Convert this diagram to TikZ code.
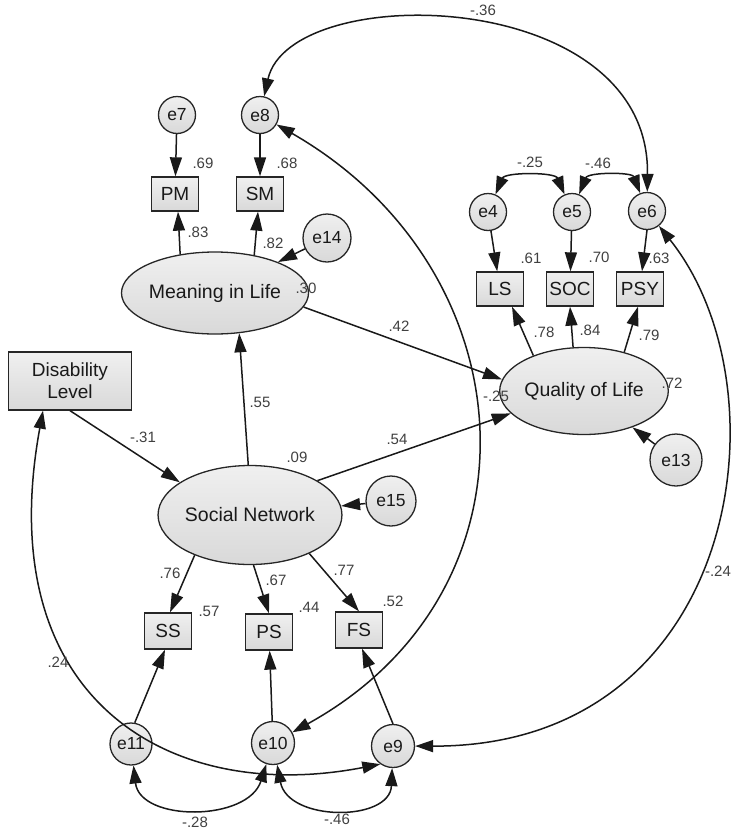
\documentclass[tikz,border=0pt]{standalone}
\usepackage{fontspec}
\setmainfont{Liberation Sans}
\usetikzlibrary{arrows.meta,shapes.geometric,calc}
\pgfdeclarelayer{background}
\pgfsetlayers{background,main}
\begin{document}
\begin{tikzpicture}[x=1pt,y=-1pt,
  base/.style={draw=black!85, line width=1.3pt, top color=black!6, bottom color=black!15, inner sep=0pt, text=black!90},
  obs/.style={base, rectangle, minimum width=47pt, minimum height=34pt, font=\fontsize{19}{20}\selectfont},
  err/.style={base, circle, minimum size=37pt, font=\fontsize{17.5}{20}\selectfont},
  lat/.style={base, ellipse, font=\fontsize{19.5}{20}\selectfont},
  lbl/.style={font=\fontsize{15}{16}\selectfont, text=black!75, inner sep=0pt},
  arr/.style={-{Triangle[length=19pt,width=12pt]}, line width=1.5pt, draw=black!90},
  cov/.style={{Triangle[length=18pt,width=12pt]}-{Triangle[length=18pt,width=12pt]}, line width=1.5pt, draw=black!90}]
\useasboundingbox (0,0) rectangle (737,833);
% nodes
\node[err] (e7) at (177,115) {e7};
\node[err] (e8) at (260,115) {e8};
\node[obs] (PM) at (175,194) {PM};
\node[obs] (SM) at (260,194) {SM};
\node[err, minimum size=48pt] (e14) at (327,238) {e14};
\node[lat, minimum width=144pt, minimum height=82pt] (MIL) at (215,293) {Meaning in Life};
\node[err] (e4) at (488,212) {e4};
\node[err] (e5) at (572,212) {e5};
\node[err] (e6) at (647,211) {e6};
\node[obs] (LS) at (500,289) {LS};
\node[obs] (SOC) at (570,289) {SOC};
\node[obs] (PSY) at (640,289) {PSY};
\node[lat, minimum width=142pt, minimum height=87pt] (QOL) at (584,391) {Quality of Life};
\node[err, minimum size=52pt] (e13) at (676,460) {e13};
\node[obs, minimum width=123pt, minimum height=58pt, align=center, font=\fontsize{19}{22}\selectfont] (DL) at (70,381) {Disability\\Level};
\node[lat, minimum width=146pt, minimum height=99pt] (SN) at (250,515) {Social Network};
\node[err, minimum size=50pt] (e15) at (391,501) {e15};
\node[obs, minimum height=36pt] (SS) at (168,631) {SS};
\node[obs, minimum height=36pt] (PS) at (269,632) {PS};
\node[obs, minimum height=36pt] (FS) at (359,630) {FS};
\node[err, minimum size=42pt] (e11) at (131,744) {e11};
\node[err, minimum size=43pt] (e10) at (273,743) {e10};
\node[err, minimum size=43pt] (e9) at (393,746) {e9};
% covariances
\begin{pgfonlayer}{background}
\draw[cov] (e4) .. controls (505,172) and (555,172) .. (e5);
\draw[cov] (e5) .. controls (588,172) and (632,172) .. (e6);
\draw[cov] (e8) .. controls (290,-20) and (650,-15) .. (e6);
\draw[cov] (e8) .. controls (530,270) and (550,590) .. (e10);
\draw[cov] (e6) .. controls (790,390) and (740,747) .. (e9);
\draw[cov] (e11) .. controls (140,822) and (248,822) .. (e10);
\draw[cov] (e10) .. controls (288,822) and (390,822) .. (e9);
\end{pgfonlayer}
\draw[cov] ([xshift=-27pt]DL.south) .. controls (-10,700) and (170,805) .. (e9.235);
% regressions
\draw[arr] (e7) -- (PM);
\draw[arr] (e8) -- (SM);
\draw[arr] (MIL.132) -- ([xshift=3pt]PM.south);
\draw[arr] (MIL.44) -- ([xshift=-2pt]SM.south);
\draw[arr] (e14) -- (MIL);
\draw[arr] (MIL.-9) -- (QOL.172);
\draw[arr] (SN.92) -- (MIL.-59);
\draw[arr] (SN.27) -- (QOL.197);
\draw[arr] (DL.south) -- (SN.155);
\draw[arr] (e15) -- (SN);
\draw[arr] (SN.216) -- ([xshift=2pt]SS.north);
\draw[arr] (SN.-86) -- (PS.north);
\draw[arr] (SN.-33) -- (FS.north);
\draw[arr] (e11.80) -- ([xshift=-3pt]SS.south);
\draw[arr] (e10) -- (PS);
\draw[arr] (e9.north) -- ([xshift=3pt]FS.south);
\draw[arr] (e4) -- (LS);
\draw[arr] (e5) -- (SOC);
\draw[arr] (e6.south) -- ([xshift=2pt]PSY.north);
\draw[arr] (QOL.145) -- ([xshift=12pt]LS.south);
\draw[arr] (QOL.104) -- (SOC.south);
\draw[arr] (QOL.44) -- ([xshift=-2pt]PSY.south);
\draw[arr] (e13) -- (QOL);
% labels
\node[lbl] (l69) at (203,163) {.69};
\node[lbl] (l68) at (287,163) {.68};
\node[lbl] (l83) at (198,232) {.83};
\node[lbl] (l82) at (273,243) {.82};
\node[lbl] (l30) at (306,288) {.30};
\node[lbl] (l42) at (399,326) {.42};
\node[lbl] (l36) at (483,10) {-.36};
\node[lbl] (l25a) at (530,162) {-.25};
\node[lbl] (l46a) at (598,163) {-.46};
\node[lbl] (l61) at (531,258) {.61};
\node[lbl] (l70) at (599,257) {.70};
\node[lbl] (l63) at (659,258) {.63};
\node[lbl] (l78) at (544,332) {.78};
\node[lbl] (l84) at (590,330) {.84};
\node[lbl] (l79) at (649,335) {.79};
\node[lbl] (l72) at (672,383) {.72};
\node[lbl] (l25b) at (496,396) {-.25};
\node[lbl] (l54) at (397,439) {.54};
\node[lbl] (l24a) at (718,571) {-.24};
\node[lbl] (l55) at (260,402) {.55};
\node[lbl] (l31) at (143,437) {-.31};
\node[lbl] (l09) at (297,457) {.09};
\node[lbl] (l76) at (170,573) {.76};
\node[lbl] (l67) at (276,580) {.67};
\node[lbl] (l77) at (344,570) {.77};
\node[lbl] (l57) at (209,611) {.57};
\node[lbl] (l44) at (309,607) {.44};
\node[lbl] (l52) at (393,601) {.52};
\node[lbl] (l24b) at (58,662) {.24};
\node[lbl] (l28) at (195,822) {-.28};
\node[lbl] (l46b) at (337,819) {-.46};
\end{tikzpicture}
\end{document}
